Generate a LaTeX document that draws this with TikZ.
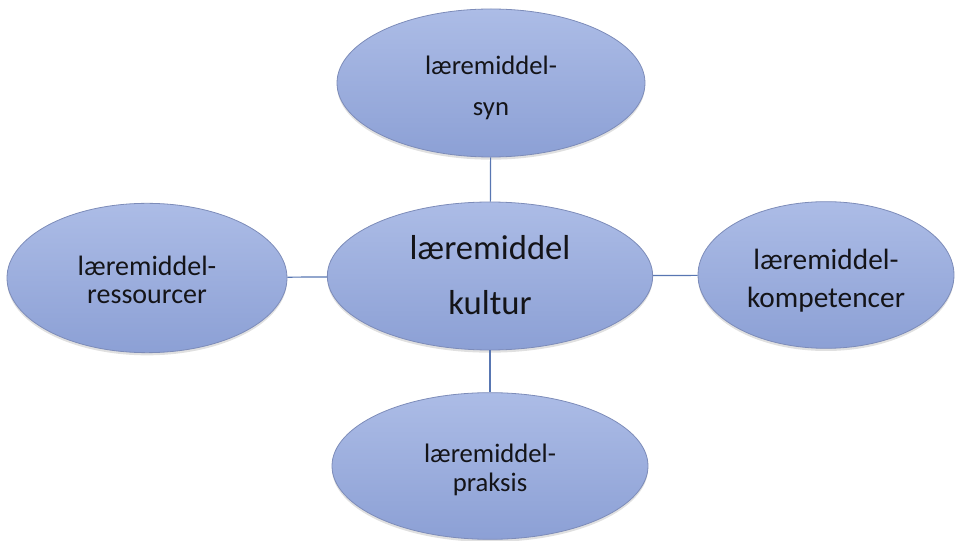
\documentclass[tikz,border=0pt]{standalone}
\usepackage{fontspec}
\setmainfont{Carlito}
\usetikzlibrary{shapes.geometric,shadows}

\definecolor{bubbletop}{RGB}{172,188,230}
\definecolor{bubblebot}{RGB}{140,160,213}
\definecolor{bubbleline}{RGB}{125,140,185}
\definecolor{linkline}{RGB}{88,118,178}
\definecolor{textcol}{RGB}{20,20,24}

\tikzset{
  bubble/.style={ellipse, draw=bubbleline, line width=.6pt,
    top color=bubbletop, bottom color=bubblebot, inner sep=0pt,
    drop shadow={shadow xshift=0pt, shadow yshift=-2pt, opacity=.12, fill=black}},
  word/.style={text=textcol, align=center, inner sep=0pt},
  link/.style={draw=linkline, line width=.9pt}
}

\begin{document}
\begin{tikzpicture}[x=0.75pt, y=-0.75pt]
  \useasboundingbox (0,0) rectangle (957,541);

  \node[bubble, minimum width=231pt, minimum height=111pt] (syn) at (491,83) {};
  \node[bubble, minimum width=210pt, minimum height=112pt] (res) at (147,278) {};
  \node[bubble, minimum width=244pt, minimum height=111pt] (kul) at (490,276) {};
  \node[bubble, minimum width=192pt, minimum height=110pt] (kom) at (826,275) {};
  \node[bubble, minimum width=237pt, minimum height=110pt] (pra) at (490,466) {};

  \node[word, font=\fontsize{20}{24}\selectfont] (syn-txt)
    at ([yshift=-3.4pt]syn.center) {læremiddel-\\[6.75pt]syn};
  \node[word, font=\fontsize{21}{25}\selectfont] (res-txt)
    at ([yshift=-1.5pt]res.center) {læremiddel-\\[-4pt]ressourcer};
  \node[word, font=\fontsize{26}{31}\selectfont] (kul-txt)
    at ([yshift=0.5pt]kul.center) {læremiddel\\[10pt]kultur};
  \node[word, font=\fontsize{22}{26}\selectfont] (kom-txt)
    at ([yshift=-4.5pt]kom.center) {læremiddel-\\[2.5pt]kompetencer};
  \node[word, font=\fontsize{20}{24}\selectfont] (pra-txt)
    at ([yshift=-2.6pt]pra.center) {læremiddel-\\[-2.25pt]praksis};

  \draw[link] (syn) -- (kul);
  \draw[link] (res) -- (kul);
  \draw[link] (kul) -- (kom);
  \draw[link] (kul) -- (pra);
\end{tikzpicture}
\end{document}
